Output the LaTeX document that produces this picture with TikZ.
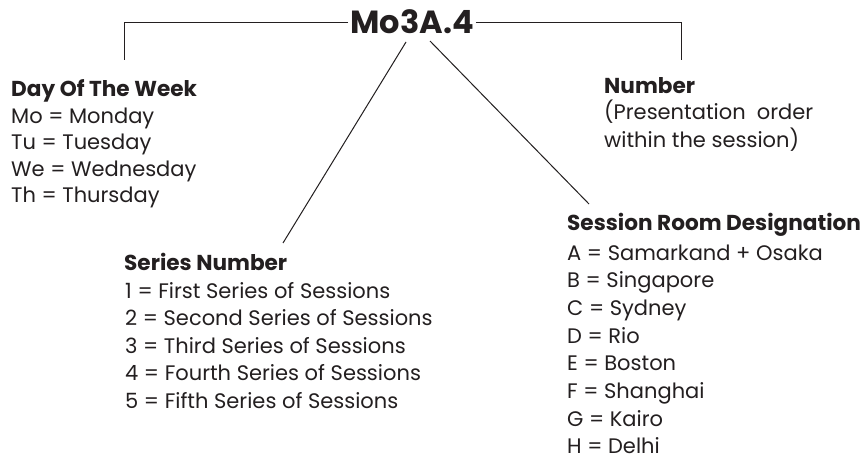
\documentclass[tikz,border=0pt]{standalone}
\usepackage{fontspec}
\setmainfont{Poppins}
\definecolor{ink}{HTML}{231F20}
\begin{document}
\begin{tikzpicture}[x=1pt,y=-1pt,
  conn/.style={draw=ink, line width=1pt},
  codebox/.style={text=ink, inner sep=2pt, font=\fontsize{32}{36}\selectfont\bfseries},
  head/.style={text=ink, inner sep=0pt, anchor=base west, font=\fontsize{21.6}{26}\selectfont\bfseries},
  item/.style={text=ink, inner sep=0pt, anchor=base west, font=\fontsize{21}{26}\selectfont}]
\useasboundingbox[fill=white] (0,0) rectangle (868,460);
% code
\node[codebox] (code) at (412,22) {Mo3A.4};
\coordinate (lt) at (124,23);
\coordinate (lb) at (124,60);
\coordinate (rt) at (681,23);
\coordinate (rb) at (681,60);
\coordinate (s1) at (406,42);
\coordinate (s2) at (283,243);
\coordinate (r1) at (430,41);
\coordinate (r2) at (589,204);
\draw[conn] (code.west |- lt) -- (lt) -- (lb);
\draw[conn] (code.east |- rt) -- (rt) -- (rb);
\draw[conn] (s1) -- (s2);
\draw[conn] (r1) -- (r2);
% day of the week
\node[head] (dayh) at (11,96.5) {Day Of The Week};
\foreach \t [count=\i] in {Mo = Monday, Tu = Tuesday, We = Wednesday, Th = Thursday}
  \node[item] (day\i) at (11,{96.5+26.5*\i}) {\t};
% number
\node[head] (numh) at (604,93) {Number};
\node[item] (num1) at (604,120) {(Presentation\ \ order};
\node[item] (num2) at (604,147) {within the session)};
% series
\node[head] (serh) at (124,270) {Series Number};
\foreach \t [count=\i] in {1 = First Series of Sessions, 2 = Second Series of Sessions, 3 = Third Series of Sessions, 4 = Fourth Series of Sessions, 5 = Fifth Series of Sessions}
  \node[item] (ser\i) at (125,{270.5+27.5*\i}) {\t};
% room
\node[head] (roomh) at (567,230) {Session Room Designation};
\foreach \t [count=\i] in {A = Samarkand + Osaka, B = Singapore, C = Sydney, D = Rio, E = Boston, F = Shanghai, G = Kairo, H = Delhi}
  \node[item] (room\i) at (567,{232.3+27.7*\i}) {\t};
\end{tikzpicture}
\end{document}
